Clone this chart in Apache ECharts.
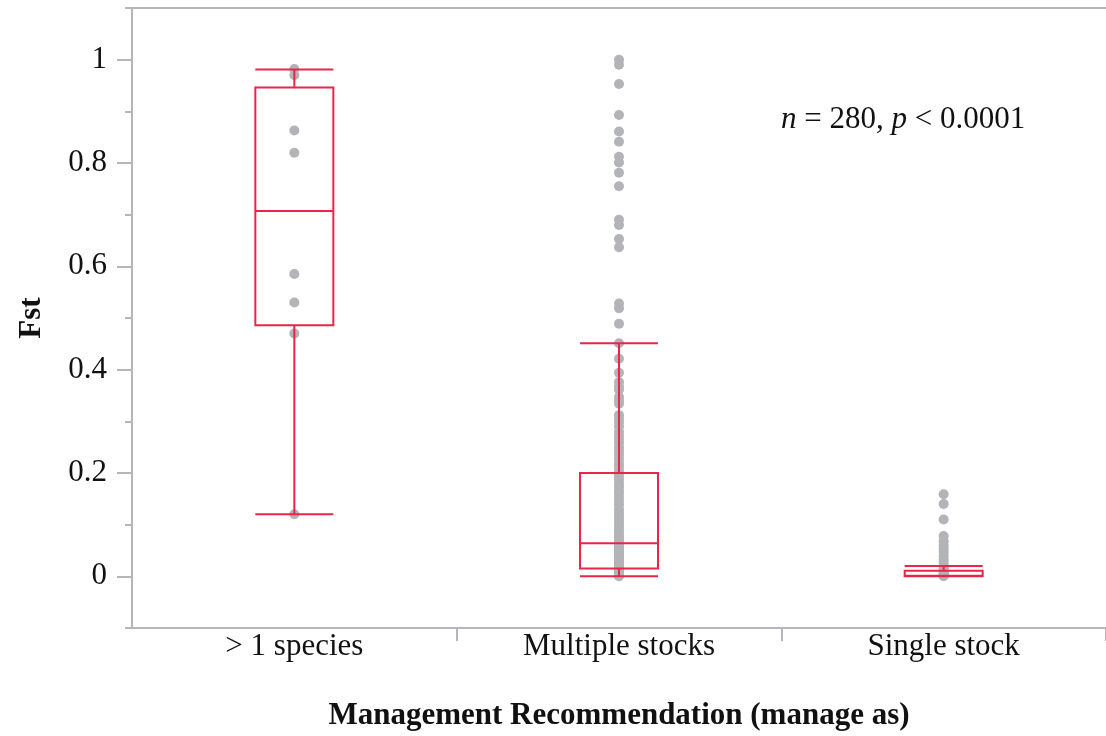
<!DOCTYPE html>
<html>
<head>
<meta charset="utf-8">
<script src="https://cdn.jsdelivr.net/npm/echarts@6/dist/echarts.min.js"></script>
<style>
  html, body { margin: 0; padding: 0; background: #ffffff; }
  #chart { width: 1106px; height: 736px; }
</style>
</head>
<body>
<div id="chart"></div>
<script>
// Fst by management recommendation
const categories = ['> 1 species', 'Multiple stocks', 'Single stock'];

// five-number summaries: [lower whisker, Q1, median, Q3, upper whisker]
const boxSpecies = [0.12, 0.486, 0.707, 0.946, 0.981];
const boxMultiple = [0.0, 0.015, 0.064, 0.2, 0.451];
const boxSingle = [0.0, 0.0, 0.001, 0.011, 0.02];

// individual Fst values per group
const fstSpecies = [0.982, 0.970, 0.863, 0.820, 0.585, 0.530, 0.470, 0.120];
const fstMultiple = [
  1.0, 0.99, 0.953, 0.893, 0.861, 0.841, 0.812, 0.801, 0.781, 0.755,
  0.69, 0.68, 0.653, 0.637, 0.528, 0.519, 0.489, 0.451, 0.421, 0.394,
  0.376, 0.368, 0.361, 0.347, 0.34, 0.334, 0.312, 0.305, 0.298, 0.29,
  0.28, 0.272, 0.265, 0.258, 0.25, 0.243, 0.236, 0.228, 0.22, 0.213,
  0.205, 0.2, 0.195, 0.188, 0.18, 0.173, 0.166, 0.16, 0.152, 0.145,
  0.138, 0.13, 0.124, 0.117, 0.11, 0.104, 0.098, 0.092, 0.086, 0.08,
  0.075, 0.07, 0.066, 0.062, 0.058, 0.054, 0.05, 0.046, 0.042, 0.038,
  0.035, 0.032, 0.029, 0.026, 0.023, 0.02, 0.018, 0.016, 0.014, 0.012,
  0.01, 0.008, 0.006, 0.004, 0.002, 0.001, 0.0
];
const fstSingle = [
  0.159, 0.14, 0.11, 0.078, 0.068, 0.06, 0.054, 0.047, 0.04, 0.033,
  0.027, 0.02, 0.015, 0.01, 0.007, 0.005, 0.003, 0.002, 0.001, 0.0
];

const yMajorTicks = [0, 0.2, 0.4, 0.6, 0.8, 1];
const yMinorTicks = [-0.1, 0.1, 0.3, 0.5, 0.7, 0.9, 1.1];

const FONT = '"Liberation Serif", "Times New Roman", serif';
const RED = '#e8264a';
const GREY_AXIS = '#b6b6ba';
const GREY_DOT = '#b3b4b8';

const points = [];
[fstSpecies, fstMultiple, fstSingle].forEach(function (vals, i) {
  vals.forEach(function (v) { points.push([categories[i], v]); });
});

const chart = echarts.init(document.getElementById('chart'), null, { renderer: 'canvas' });

chart.setOption({
  animation: false,
  backgroundColor: '#ffffff',
  grid: { left: 132, top: 8, width: 977, height: 624, containLabel: false },
  xAxis: [
    {
      type: 'category',
      data: categories,
      boundaryGap: true,
      position: 'bottom',
      name: 'Management Recommendation (manage as)',
      nameLocation: 'middle',
      nameGap: 72,
      nameTextStyle: { fontFamily: FONT, fontSize: 31, fontWeight: 'bold', color: '#111' },
      axisLine: { show: true, onZero: false, lineStyle: { color: GREY_AXIS, width: 2 } },
      axisTick: {
        show: true, length: 13,
        interval: function (idx) { return idx !== 0; },
        lineStyle: { color: GREY_AXIS, width: 2 }
      },
      axisLabel: { fontFamily: FONT, fontSize: 31, color: '#111', margin: 3 },
      splitLine: { show: false }
    },
    {
      type: 'category',
      data: categories,
      position: 'top',
      axisLine: { show: true, onZero: false, lineStyle: { color: GREY_AXIS, width: 2 } },
      axisTick: { show: false },
      axisLabel: { show: false },
      splitLine: { show: false }
    }
  ],
  yAxis: [
    {
      type: 'value',
      min: -0.1,
      max: 1.1,
      name: 'Fst',
      nameLocation: 'middle',
      nameGap: 85,
      nameTextStyle: { fontFamily: FONT, fontSize: 31, fontWeight: 'bold', color: '#111' },
      axisLine: { show: true, onZero: false, lineStyle: { color: GREY_AXIS, width: 2 } },
      axisTick: { show: true, length: 7, customValues: yMinorTicks, lineStyle: { color: GREY_AXIS, width: 2 } },
      axisLabel: {
        fontFamily: FONT, fontSize: 31, color: '#111', margin: 25,
        customValues: yMajorTicks,
        formatter: function (v) { return String(+v.toFixed(1)); }
      },
      splitLine: { show: false }
    },
    {
      type: 'value',
      min: -0.1,
      max: 1.1,
      position: 'left',
      axisLine: { show: false, onZero: false },
      axisTick: { show: true, length: 15, customValues: yMajorTicks, lineStyle: { color: GREY_AXIS, width: 2 } },
      axisLabel: { show: false },
      splitLine: { show: false }
    }
  ],
  series: [
    {
      type: 'scatter',
      xAxisIndex: 0,
      yAxisIndex: 0,
      symbol: 'circle',
      symbolSize: 10,
      itemStyle: { color: GREY_DOT, opacity: 1 },
      data: points,
      z: 2
    },
    {
      type: 'boxplot',
      xAxisIndex: 0,
      yAxisIndex: 0,
      boxWidth: [78, 78],
      itemStyle: { color: 'rgba(0,0,0,0)', borderColor: RED, borderWidth: 2 },
      data: [boxSpecies, boxMultiple, boxSingle],
      z: 3
    }
  ],
  graphic: [
    {
      type: 'text',
      left: 781,
      top: 104,
      style: {
        text: '{i|n} = 280, {i|p} < 0.0001',
        font: '31px ' + FONT,
        fill: '#111',
        rich: {
          i: { fontFamily: FONT, fontSize: 31, fontStyle: 'italic', fill: '#111' }
        }
      }
    }
  ]
});
</script>
</body>
</html>
